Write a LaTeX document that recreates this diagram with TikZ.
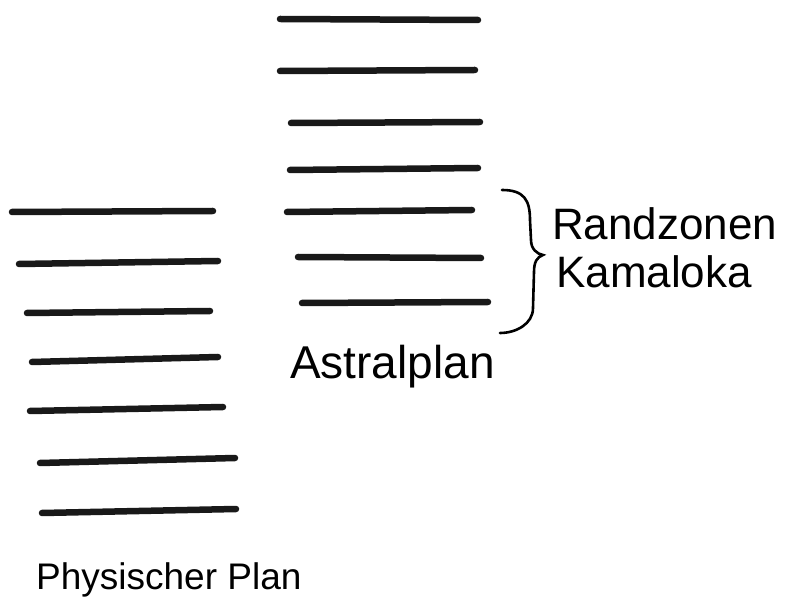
\documentclass[tikz,border=0pt]{standalone}
\usepackage{fontspec}
\setmainfont{Liberation Sans}
\usepackage{tikz}
\usetikzlibrary{positioning,calc}

\tikzset{
  stroke/.style={line width=6.5pt, line cap=round, black!90},
  label/.style={anchor=base west, inner sep=0pt, font=\fontsize{44}{50}\selectfont}
}

\begin{document}
\begin{tikzpicture}[x=1pt,y=-1pt]
    \useasboundingbox (0,0) rectangle (785,601);

    % Astral plane strokes
    \draw[stroke] (280,19) -- (478,20);
    \draw[stroke] (280,71) -- (475,70);
    \draw[stroke] (291,123) -- (480,122);
    \draw[stroke] (290,170) -- (478,168);
    \draw[stroke] (287,212) -- (472,210);
    \draw[stroke] (298,257) -- (481,258);
    \draw[stroke] (302,303) -- (488,302);

    % Physical plane strokes
    \draw[stroke] (12,212) -- (213,211);
    \draw[stroke] (19,264) -- (218,261);
    \draw[stroke] (27,313) -- (210,311);
    \draw[stroke] (32,362) -- (218,357);
    \draw[stroke] (30,411) -- (223,407);
    \draw[stroke] (40,463) -- (235,458);
    \draw[stroke] (42,513) -- (236,509);

    % Brace
    \draw[line width=2.6pt, line cap=round] (502,190)
        .. controls (524,190) and (530,200) .. (530,220) -- (531,240)
        .. controls (531,249) and (537,254) .. (543,255)
        .. controls (537,257) and (534,262) .. (534,272) -- (533,308)
        .. controls (533,324) and (516,333) .. (500,333);

    % Labels
    \node[label] (randzonen) at (552,240) {Randzonen};
    \node[label] (kamaloka) at (556,288) {Kamaloka};
    \node[label, font=\fontsize{46}{52}\selectfont] (astral) at (290,379) {Astralplan};
    \node[label, font=\fontsize{37}{44}\selectfont] (physisch) at (36,589) {Physischer Plan};
\end{tikzpicture}
\end{document}
